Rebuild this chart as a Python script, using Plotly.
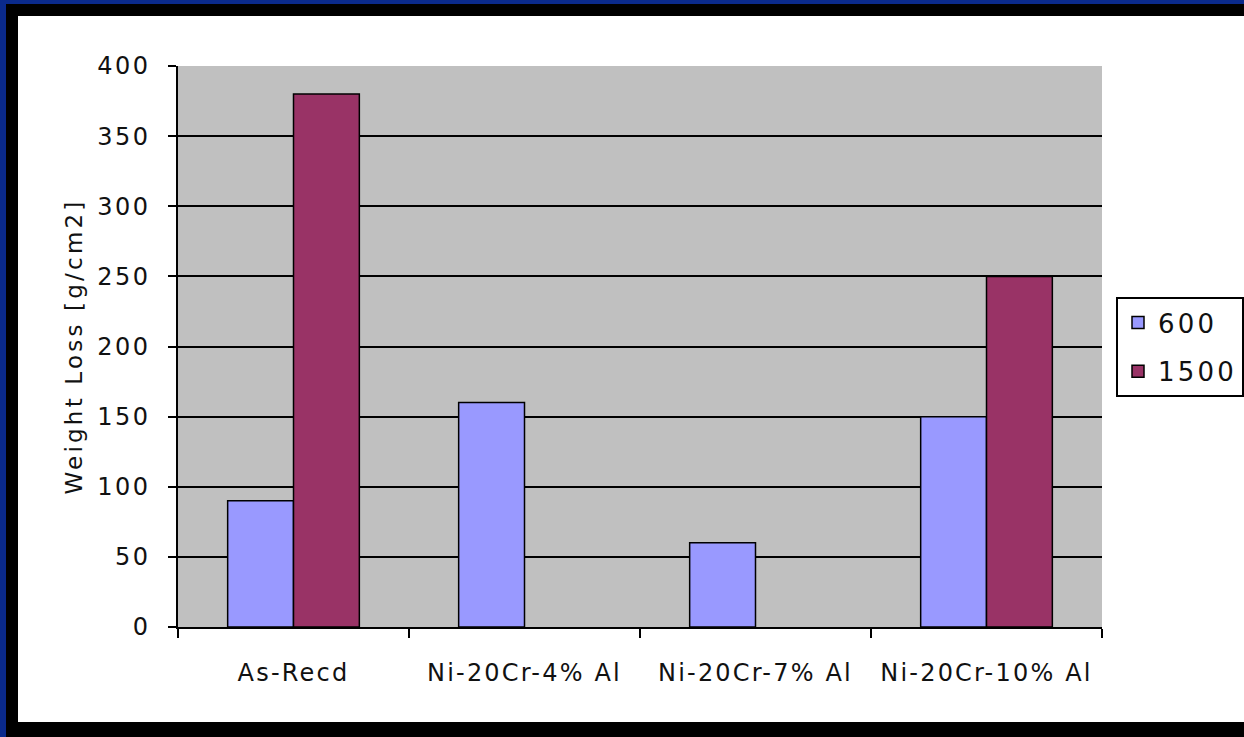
import plotly.graph_objects as go

# Weight loss per alloy at two exposure levels (None = not measured)
categories = ["As-Recd", "Ni-20Cr-4% Al", "Ni-20Cr-7% Al", "Ni-20Cr-10% Al"]
loss_600 = [90, 160, 60, 150]
loss_1500 = [380, None, None, 250]
series_names = ["600", "1500"]
y_ticks = [0, 50, 100, 150, 200, 250, 300, 350, 400]

W, H = 1244, 737
ML, MR, MT, MB = 178, 142, 66, 110
PW, PH = W - ML - MR, H - MT - MB

FONT = "DejaVu Sans"
TXT = "#111111"


def spaced(s, ls=2.5):
    return f'<span style="letter-spacing:{ls}px">{s}</span>'


def px_x(px):
    return (px - ML) / PW


def px_y(py):
    return (H - MB - py) / PH


fig = go.Figure()
fig.add_trace(go.Bar(
    x=categories, y=loss_600, name=spaced(series_names[0], 3.2),
    marker=dict(color="#9999FF", line=dict(color="#000000", width=1.5)),
    legendgroup="a",
))
fig.add_trace(go.Bar(
    x=categories, y=loss_1500, name=spaced(series_names[1], 3.2),
    marker=dict(color="#993366", line=dict(color="#000000", width=1.5)),
    legendgroup="b",
))

# window frame around the chart panel
frame = [
    (0, 0, W, 4, "#0a2a8c"),
    (0, 0, 6, H, "#0a2a8c"),
    (6, 4, W, 16, "#000000"),
    (6, 4, 18, H, "#000000"),
    (6, 722, W, H, "#000000"),
]
shapes = []
for x0, y0, x1, y1, c in frame:
    shapes.append(dict(
        type="rect", xref="paper", yref="paper",
        x0=px_x(x0), x1=px_x(x1), y0=px_y(y1), y1=px_y(y0),
        fillcolor=c, line=dict(width=0), layer="above",
    ))

fig.update_layout(
    width=W, height=H,
    margin=dict(l=ML, r=MR, t=MT, b=MB, autoexpand=False),
    paper_bgcolor="#ffffff",
    plot_bgcolor="#c0c0c0",
    barmode="group",
    bargap=0.43,
    bargroupgap=0,
    font=dict(family=FONT, size=24, color=TXT),
    shapes=shapes,
    legend=dict(
        x=px_x(1116), y=px_y(297), xanchor="left", yanchor="top",
        bgcolor="#ffffff", bordercolor="#000000", borderwidth=2,
        font=dict(family=FONT, size=26, color=TXT),
        traceorder="grouped", tracegroupgap=12,
    ),
    xaxis=dict(
        type="category",
        tickmode="array", tickvals=categories,
        ticktext=[spaced(c, 2.2) for c in categories],
        tickson="boundaries",
        ticks="outside", ticklen=9, tickwidth=1.5, tickcolor="#000000",
        showline=True, linecolor="#000000", linewidth=1.5,
        showgrid=False, ticklabelstandoff=23,
        tickfont=dict(family=FONT, size=24, color=TXT),
    ),
    yaxis=dict(
        range=[0, 400],
        tickmode="array", tickvals=y_ticks,
        ticktext=[spaced(v) for v in y_ticks],
        ticks="outside", ticklen=8, tickwidth=1.5, tickcolor="#000000",
        showline=True, linecolor="#000000", linewidth=1.5,
        showgrid=True, gridcolor="#000000", gridwidth=1.5,
        zeroline=False, ticklabelstandoff=13,
        tickfont=dict(family=FONT, size=24, color=TXT),
        title=dict(text=spaced("Weight Loss [g/cm2]", 3.2),
                   font=dict(family=FONT, size=23, color=TXT), standoff=8),
    ),
)

fig.write_html("out.html")
